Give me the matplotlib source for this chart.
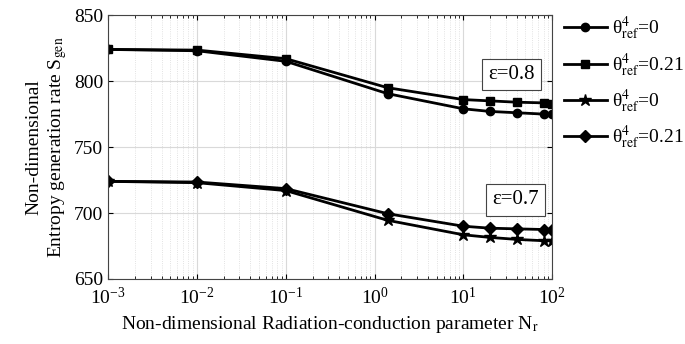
import matplotlib
matplotlib.use('Agg')
import matplotlib.pyplot as plt

plt.rcParams['font.family'] = ['Liberation Serif', 'DejaVu Serif']
plt.rcParams['mathtext.fontset'] = 'stix'

# Radiation-conduction parameter
nr = [1e-3, 1e-2, 1e-1, 1.4, 10, 20, 40, 80, 100]

# epsilon = 0.8
s_08_t0 = [824, 823, 815, 790.5, 779, 777, 776, 775, 775]
s_08_t021 = [824, 823.5, 817, 795, 786, 785, 784, 783.5, 783]
# epsilon = 0.7
s_07_t0 = [724, 723, 717, 694.5, 683.5, 681.5, 680, 679, 679]
s_07_t021 = [724, 723.5, 718.5, 699.5, 690, 688.5, 688, 687.5, 687.5]

labels = [r'θ$^{4}_{\rm ref}$=0', r'θ$^{4}_{\rm ref}$=0.21',
          r'θ$^{4}_{\rm ref}$=0', r'θ$^{4}_{\rm ref}$=0.21']

fig = plt.figure(figsize=(6.85, 3.44), dpi=100)
ax = fig.add_axes([0.158, 0.189, 0.648, 0.767])

ax.plot(nr, s_08_t0, '-o', color='black', lw=2, ms=6, label=labels[0])
ax.plot(nr, s_08_t021, '-s', color='black', lw=2, ms=6, label=labels[1])
ax.plot(nr, s_07_t0, '-*', color='black', lw=2, ms=9, label=labels[2])
ax.plot(nr, s_07_t021, '-D', color='black', lw=2, ms=6, label=labels[3])

ax.set_xscale('log')
ax.set_xlim(1e-3, 1e2)
ax.set_ylim(650, 850)
ax.set_yticks([650, 700, 750, 800, 850])
ax.grid(True, which='major', color='#d9d9d9', lw=0.8)
ax.grid(True, which='minor', color='#d9d9d9', lw=0.6, ls=':')
ax.tick_params(which='both', direction='in', labelsize=14, top=True, right=True)
ax.tick_params(axis='x', pad=6)
for sp in ax.spines.values():
    sp.set_color('#444444')

ax.set_xlabel(r'Non-dimensional Radiation-conduction parameter N$_{\rm r}$', fontsize=14)
ax.set_ylabel('Non-dimensional\n' + r'Entropy generation rate S$_{\rm gen}$', fontsize=14)

box = dict(boxstyle='square,pad=0.3', fc='white', ec='#444444', lw=0.8)
ax.text(19, 805, 'ε=0.8', fontsize=15, bbox=box, va='center')
ax.text(21, 710, 'ε=0.7', fontsize=15, bbox=box, va='center')

ax.legend(loc='upper left', bbox_to_anchor=(1.0, 1.045), frameon=False, fontsize=14,
          handlelength=2.2, labelspacing=0.45, borderaxespad=0.2, handletextpad=0.3)

fig.savefig('out.png', dpi=100)
